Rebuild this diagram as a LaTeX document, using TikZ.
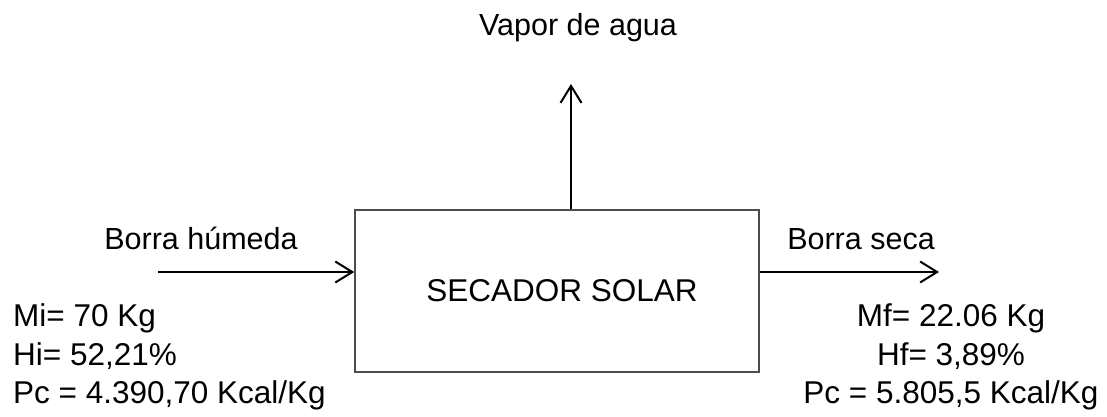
\documentclass[tikz,border=0pt]{standalone}
\usepackage{fontspec}
\setmainfont{Liberation Sans}
\usepackage{tikz}
\usetikzlibrary{arrows.meta, positioning}
\tikzstyle{flecha} = [draw, -{Straight Barb[length=17pt,width=21pt,line width=2pt]}, line width=2pt]

\begin{document}
\begin{tikzpicture}[x=1pt,y=-1pt]
  \tikzset{
    caja/.style={
      rectangle,
      draw=black!70,
      line width=1.6pt,
      minimum width=404pt,
      minimum height=162pt,
      inner sep=0pt
    },
    texto/.style={
      font=\fontsize{30.5}{40}\selectfont,
      inner sep=0pt
    },
    dato/.style={
      font=\fontsize{31.5}{40}\selectfont,
      inner sep=0pt
    }
  }
  \useasboundingbox (0,0) rectangle (1107,416);

  \node[caja, dato] (secador) at (557,291) {\hspace{10pt}SECADOR SOLAR};

  \node[texto, anchor=base] (vapor) at (578,35) {Vapor de agua};
  \node[texto, anchor=base] (humeda) at (201,249) {Borra húmeda};
  \node[texto, anchor=base] (seca) at (861,249) {Borra seca};

  % datos de entrada
  \node[dato, anchor=base west] (mi) at (13,326) {Mi= 70 Kg};
  \node[dato, anchor=base west] (hi) at (13,365) {Hi= 52,21\%};
  \node[dato, anchor=base west] (pci) at (13,403) {Pc = 4.390,70 Kcal/Kg};

  % datos de salida
  \node[dato, anchor=base] (mf) at (951,326) {Mf= 22.06 Kg};
  \node[dato, anchor=base] (hf) at (951,365) {Hf= 3,89\%};
  \node[dato, anchor=base] (pcf) at (951,403) {Pc = 5.805,5 Kcal/Kg};

  \coordinate (entrada) at (158,272);
  \coordinate (salida) at (939,272);
  \coordinate (vapsal) at (571,84);

  \draw[flecha] (entrada) -- (entrada -| secador.west);
  \draw[flecha] (secador.east |- salida) -- (salida);
  \draw[flecha] (vapsal |- secador.north) -- (vapsal);

\end{tikzpicture}
\end{document}
